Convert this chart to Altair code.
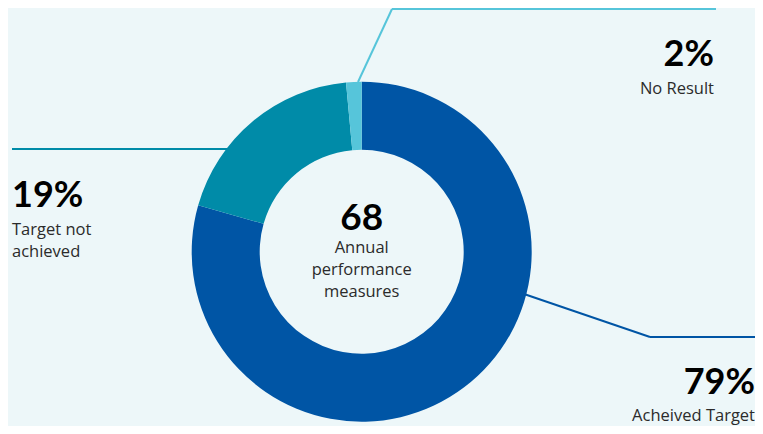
import altair as alt
import pandas as pd

# ---- data ----
categories = ["Acheived Target", "Target not achieved", "No Result"]
counts = [54, 13, 1]
percent_labels = ["79%", "19%", "2%"]
total_label = "68"
center_lines = ["Annual", "performance", "measures"]
colors = ["#0055A5", "#008BA8", "#56C5DA"]

W, H = 747, 418
CX, CY = 353.7, 243.7
BG = "#EDF7F9"

slices = pd.DataFrame({"cat": categories, "n": counts, "idx": list(range(len(categories)))})

arc = alt.Chart(slices).mark_arc(innerRadius=102, outerRadius=170).encode(
    theta=alt.Theta("n:Q", stack=True),
    color=alt.Color("cat:N", scale=alt.Scale(domain=categories, range=colors), legend=None),
    order=alt.Order("idx:Q"),
    x=alt.value(CX),
    y=alt.value(CY),
)

# leader line segments (annotation layout)
segs = pd.DataFrame([
    {"x": 350, "y": 74, "x2": 384, "y2": 1, "c": categories[2]},
    {"x": 384, "y": 1, "x2": 708, "y2": 1, "c": categories[2]},
    {"x": 4, "y": 141, "x2": 220, "y2": 141, "c": categories[1]},
    {"x": 516, "y": 286, "x2": 642, "y2": 329, "c": categories[0]},
    {"x": 642, "y": 329, "x2": 752, "y2": 329, "c": categories[0]},
])
lines = alt.Chart(segs).mark_rule(strokeWidth=2).encode(
    x=alt.X("x:Q", scale=None), y=alt.Y("y:Q", scale=None),
    x2="x2:Q", y2="y2:Q",
    color=alt.Color("c:N", scale=alt.Scale(domain=categories, range=colors), legend=None),
)

NUMFONT = "Lato"
LBLFONT = "Open Sans"

def txt(t, x, y, size, bold=False, align="left", color="#2b2b2b", font=LBLFONT):
    return alt.Chart(pd.DataFrame({"t": [t]})).mark_text(
        text=t, fontSize=size, fontWeight="bold" if bold else "normal", font=font,
        align=align, baseline="alphabetic", color=color,
    ).encode(x=alt.value(x), y=alt.value(y))

labels = [
    txt(percent_labels[2], 706, 58, 36, bold=True, align="right", color="#000000", font=NUMFONT),
    txt(categories[2], 706, 86, 16.5, align="right"),
    txt(percent_labels[1], 4, 199, 36, bold=True, color="#000000", font=NUMFONT),
    txt("Target not", 4, 227, 16.5),
    txt("achieved", 4, 249, 16.5),
    txt(percent_labels[0], 747, 386, 36, bold=True, align="right", color="#000000", font=NUMFONT),
    txt(categories[0], 747, 413, 16.5, align="right"),
    txt(total_label, CX, 222, 37, bold=True, align="center", color="#000000", font=NUMFONT),
    txt(center_lines[0], CX, 245, 16.5, align="center"),
    txt(center_lines[1], CX, 267, 16.5, align="center"),
    txt(center_lines[2], CX, 289, 16.5, align="center"),
]

chart = alt.layer(arc, lines, *labels).properties(
    width=W, height=H, background=BG, padding=0,
    autosize=alt.AutoSizeParams(type="none"),
).configure_view(stroke=None)

chart.save("out.html", embed_options={"renderer": "svg", "actions": False})
